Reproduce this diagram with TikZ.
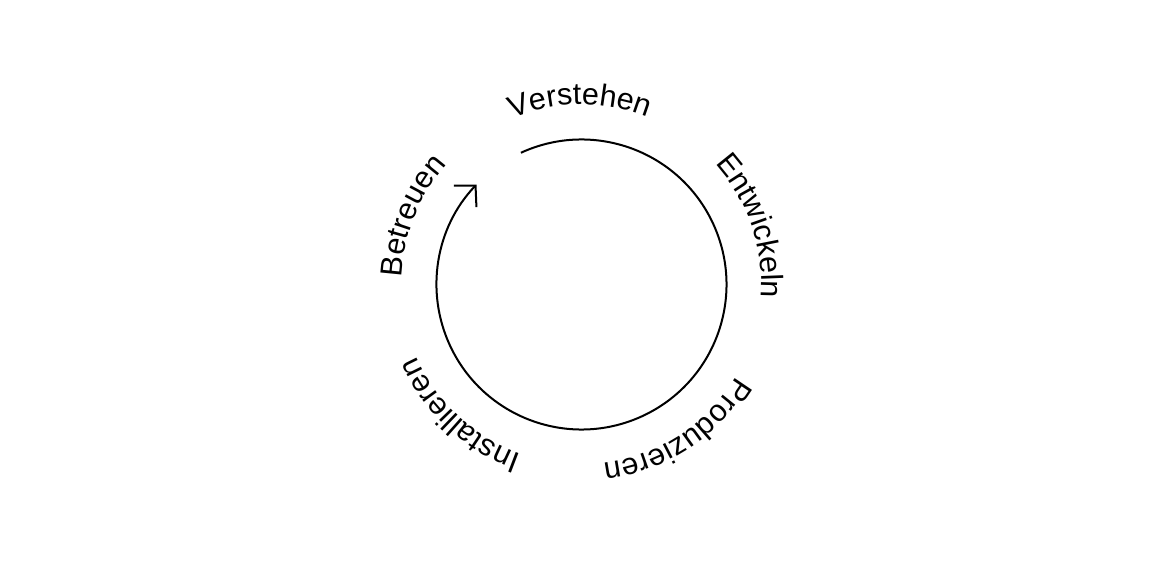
\documentclass[tikz,border=0pt]{standalone}
\usepackage{fontspec}
\setmainfont{Liberation Sans}
\usetikzlibrary{arrows.meta, decorations.text}
\newcommand{\cylabelfont}{\fontsize{30.5}{36}\selectfont}

\begin{document}
\begin{tikzpicture}[
    x=1pt, y=1pt,
    cy-arc/.style={line width=2pt},
    cy-arrow/.style={-{Straight Barb[length=15pt, width=31pt, line width=2pt]}},
    cy-label/.style={decorate, decoration={text along path, text align=center,
        text={|\cylabelfont|#1}}},
]
    \useasboundingbox (0,0) rectangle (1160,560);

    % ---- CENTRE of the cycle ----
    \coordinate (cyc) at (581.5,275.5);

    % ---- ARC: clockwise, open gap at the top left ----
    \draw[cy-arc, cy-arrow] (cyc) ++(114.7:145) coordinate (cyc-start)
        arc[start angle=114.7, end angle=-223.6, radius=145];

    % ---- LABELS: along an outer circle ----
    \path[cy-label=Verstehen]    (cyc) ++(135.5:180) arc[start angle=135.5, end angle=45.5,  radius=180];
    \path[cy-label=Entwickeln]   (cyc) ++(64:180)    arc[start angle=64,    end angle=-26,   radius=180];
    \path[cy-label=Produzieren]  (cyc) ++(-12:180)   arc[start angle=-12,   end angle=-102,  radius=180];
    \path[cy-label=Installieren] (cyc) ++(-88:180)   arc[start angle=-88,   end angle=-178,  radius=180];
    \path[cy-label=Betreuen]     (cyc) ++(203:180)   arc[start angle=203,   end angle=113,   radius=180];

\end{tikzpicture}
\end{document}
